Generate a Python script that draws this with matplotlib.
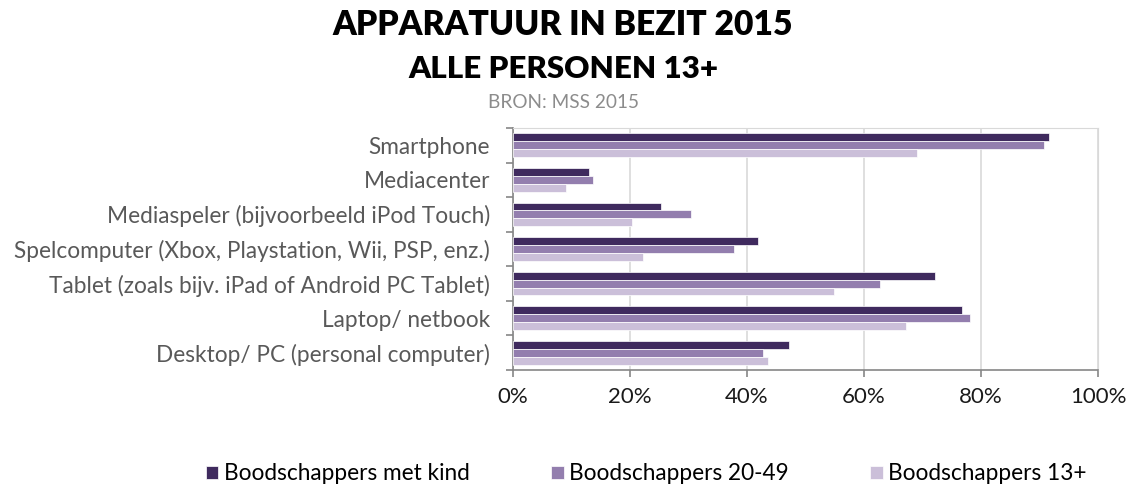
import matplotlib.pyplot as plt
import numpy as np

categories = ['Desktop/ PC (personal computer)', 'Laptop/ netbook',
              'Tablet (zoals bijv. iPad of Android PC Tablet)',
              'Spelcomputer (Xbox, Playstation, Wii, PSP, enz.)',
              'Mediaspeler (bijvoorbeeld iPod Touch)', 'Mediacenter', 'Smartphone']
met_kind = [47.2, 76.8, 72.1, 41.9, 25.3, 13.0, 91.6]
b20_49 = [42.7, 78.1, 62.7, 37.7, 30.4, 13.7, 90.8]
b13 = [43.6, 67.1, 54.8, 22.3, 20.3, 9.0, 69.1]
series_names = ['Boodschappers met kind', 'Boodschappers 20-49', 'Boodschappers 13+']
colors = ['#3f2a5e', '#937eae', '#cbbfd9']

plt.rcParams['font.family'] = ['Lato', 'DejaVu Sans']

fig = plt.figure(figsize=(11.26, 4.88), dpi=100)
ax = fig.add_axes([513 / 1126, 1 - 370 / 488, 585 / 1126, 242 / 488])

y = np.arange(len(categories))
h = 0.23
for i, vals in enumerate([met_kind, b20_49, b13]):
    ax.barh(y + (1 - i) * h, vals, height=h, color=colors[i],
            edgecolor='white', linewidth=0.5, label=series_names[i], zorder=3)

ax.set_xlim(0, 100)
ax.set_ylim(-0.5, len(categories) - 0.5)
ax.set_xticks(np.arange(0, 101, 20))
ax.set_xticklabels([f'{v}%' for v in range(0, 101, 20)], fontsize=16, color='#1a1a1a')
ax.set_yticks(y)
ax.set_yticklabels(categories, fontsize=16.3, color='#595959')
ax.set_yticks(np.arange(-0.5, len(categories), 1), minor=True)
ax.tick_params(axis='y', which='major', length=0, pad=16.5)
ax.tick_params(axis='y', which='minor', length=5, color='#868686', width=1.2)
ax.tick_params(axis='x', length=5, color='#868686', width=1.2, pad=7)
ax.grid(axis='x', color='#d9d9d9', linewidth=1.2, zorder=0)
for s in ['top', 'right']:
    ax.spines[s].set_color('#d9d9d9')
for s in ['left', 'bottom']:
    ax.spines[s].set_color('#868686')
    ax.spines[s].set_linewidth(1.2)

fig.text(0.5, 1 - 25 / 488, 'APPARATUUR IN BEZIT 2015', ha='center', va='center',
         fontsize=24.2, fontweight='heavy', color='#000000')
fig.text(0.5, 1 - 69 / 488, 'ALLE PERSONEN 13+', ha='center', va='center',
         fontsize=22.5, fontweight='heavy', color='#000000')
fig.text(0.5, 1 - 102 / 488, 'BRON: MSS 2015', ha='center', va='center',
         fontsize=13.7, color='#8c8c8c')

fig.legend(loc='center', bbox_to_anchor=(0.574, 1 - 474 / 488), ncol=3, frameon=False,
           fontsize=16.3, handlelength=0.55, handleheight=0.55, handletextpad=0.25,
           columnspacing=3.6)

fig.savefig('out.png', dpi=100)
